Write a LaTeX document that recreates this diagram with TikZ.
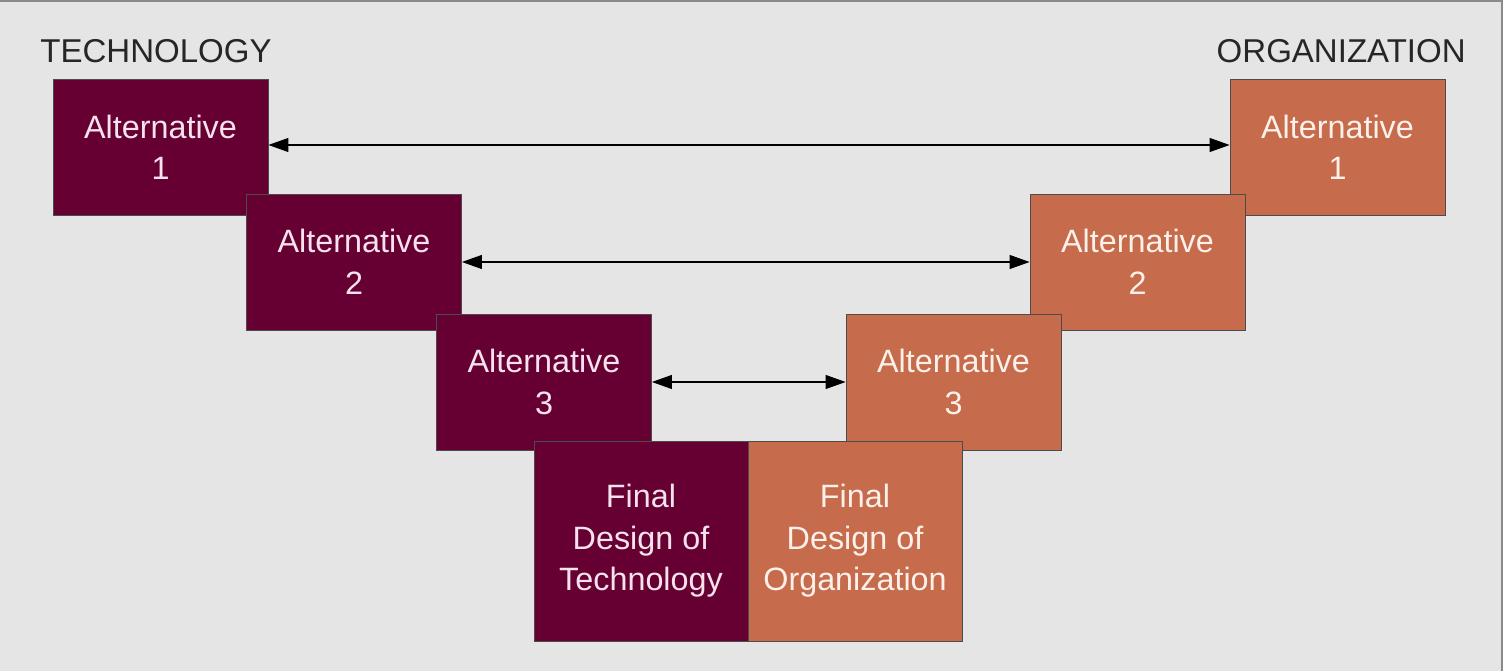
\documentclass[tikz,border=0pt]{standalone}
\usepackage{fontspec}
\setmainfont{Liberation Sans}
\usetikzlibrary{arrows.meta}
\definecolor{bg}{HTML}{E5E5E5}
\definecolor{maroon}{HTML}{660033}
\definecolor{rust}{HTML}{C66B4B}
\definecolor{pinkw}{HTML}{F6E2EC}
\definecolor{rustw}{HTML}{FCF0EA}
\definecolor{framegray}{HTML}{8A8A8A}
\begin{document}
\begin{tikzpicture}[x=0.02cm,y=-0.02cm,
  lbl/.style={font=\fontsize{18.8}{23}\selectfont, text=black!85, inner sep=0pt},
  boxbase/.style={rectangle, draw=black!70, line width=0.5pt, align=center,
    font=\fontsize{18.4}{23.6}\selectfont, inner sep=0pt,
    minimum width=4.3cm, minimum height=2.72cm},
  tbox/.style={boxbase, fill=maroon, text=pinkw},
  obox/.style={boxbase, fill=rust, text=rustw},
  fbox/.style={minimum height=4cm, minimum width=4.28cm},
  link/.style={draw=black, line width=0.6pt, {Triangle[length=0.4cm,width=0.28cm]}-{Triangle[length=0.4cm,width=0.28cm]}}
]
\useasboundingbox (0,0) rectangle (1503,671);
\fill[bg] (0,0) rectangle (1503,671);
\draw[framegray, line width=1.2pt] (0,1) -- (1502,1) -- (1502,671);

\node[lbl, anchor=west] (tlab) at (40,51) {TECHNOLOGY};
\node[lbl, anchor=east] (olab) at (1466,51) {ORGANIZATION};

\node[tbox] (t1) at (160.5,147.5) {Alternative\\1};
\node[tbox] (t2) at (354,262) {Alternative\\2};
\node[tbox] (t3) at (544,382) {Alternative\\3};

\node[obox] (o1) at (1337.5,147.5) {Alternative\\1};
\node[obox] (o2) at (1137.5,262) {Alternative\\2};
\node[obox] (o3) at (953.5,382) {Alternative\\3};

\node[tbox, fbox] (tf) at (641,541) {Final\\Design of\\Technology};
\node[obox, fbox] (of) at (855,541) {Final\\Design of\\Organization};

\draw[link] ([yshift=0.05cm]t1.east) -- ([yshift=0.05cm]o1.west);
\draw[link] (t2) -- (o2);
\draw[link] (t3) -- (o3);
\end{tikzpicture}
\end{document}
